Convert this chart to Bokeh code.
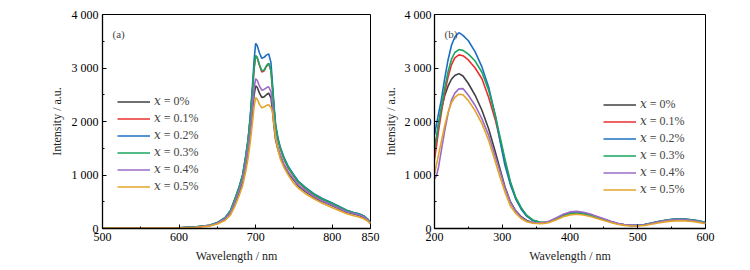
from bokeh.plotting import figure
from bokeh.layouts import row
from bokeh.models import FixedTicker, Legend, LegendItem, Label, Range1d
from bokeh.embed import file_html
from bokeh.resources import INLINE

SERIES_LABELS = ["\U0001D465 = 0%", "\U0001D465 = 0.1%", "\U0001D465 = 0.2%",
                 "\U0001D465 = 0.3%", "\U0001D465 = 0.4%", "\U0001D465 = 0.5%"]
COLORS = ["#404040", "#e8302f", "#1c6fc2", "#1aa560", "#9b6bc7", "#e3a42a"]

Y_TICKS = [0, 1000, 2000, 3000, 4000]
Y_TICK_LABELS = ["0", "1 000", "2 000", "3 000", "4 000"]
Y_MINOR = [500, 1500, 2500, 3500]

# ---------- panel (a) ----------
A_X_TICKS = [500, 600, 700, 800, 850]
A_X_LABELS = ["500", "600", "700", "800", "850"]
A_X_MINOR = [550, 650, 750]
WL_A = [500, 550, 600, 620, 640, 650, 660, 667, 673, 678, 683, 687, 690, 693, 696, 698,
        700, 702, 705, 708, 711, 714, 717, 720, 722, 724, 726, 729, 732, 737, 743, 750,
        756, 765, 776, 787, 798, 808, 819, 828, 835, 841, 846, 850]
A_0 = [8, 8, 12, 22, 55, 100, 180, 290, 480, 660, 880, 1180, 1440, 1780, 2200, 2500,
       2665, 2640, 2530, 2450, 2460, 2500, 2530, 2440, 2200, 1900, 1660, 1480, 1350, 1180, 1020, 900,
       790, 690, 585, 505, 440, 375, 305, 270, 245, 210, 160, 95]
A_1 = [10, 10, 15, 25, 58, 108, 195, 320, 545, 745, 985, 1330, 1630, 2060, 2600, 2990,
       3225, 3190, 3050, 2925, 2945, 3030, 3085, 2950, 2610, 2240, 1910, 1670, 1500, 1300, 1120, 975,
       855, 745, 630, 540, 470, 400, 330, 290, 265, 230, 172, 108]
A_2 = [10, 10, 15, 25, 60, 110, 200, 330, 550, 750, 1000, 1350, 1650, 2100, 2700, 3150,
       3460, 3420, 3280, 3180, 3200, 3240, 3265, 3100, 2700, 2300, 1950, 1700, 1530, 1330, 1150, 1000,
       880, 770, 650, 560, 490, 420, 340, 300, 275, 240, 180, 115]
A_3 = [10, 10, 15, 25, 60, 110, 200, 330, 560, 760, 1000, 1350, 1650, 2080, 2620, 3000,
       3235, 3200, 3060, 2950, 2960, 3040, 3090, 2960, 2620, 2250, 1920, 1680, 1510, 1310, 1130, 985,
       865, 755, 640, 550, 480, 410, 335, 295, 270, 235, 175, 110]
A_4 = [8, 8, 12, 22, 55, 100, 185, 300, 500, 690, 920, 1230, 1500, 1850, 2300, 2620,
       2800, 2770, 2660, 2585, 2600, 2630, 2650, 2560, 2300, 1980, 1720, 1530, 1390, 1210, 1050, 920,
       810, 710, 600, 515, 450, 385, 315, 280, 255, 220, 165, 100]
A_5 = [8, 8, 12, 20, 45, 85, 150, 250, 420, 600, 800, 1060, 1300, 1620, 2000, 2280,
       2445, 2420, 2320, 2255, 2270, 2300, 2315, 2260, 2180, 1950, 1700, 1480, 1310, 1140, 990, 840,
       750, 650, 555, 470, 400, 340, 275, 240, 215, 182, 140, 87]

# ---------- panel (b) ----------
B_X_TICKS = [200, 300, 400, 500, 600]
B_X_LABELS = ["200", "300", "400", "500", "600"]
B_X_MINOR = [250, 350, 450, 550]
WL_B = [200, 203, 206, 210, 215, 220, 225, 230, 236, 242, 250, 260, 270, 280, 290, 297,
        304, 312, 320, 328, 336, 345, 355, 362, 370, 380, 390, 400, 410, 420, 430, 440,
        450, 460, 470, 480, 490, 500, 510, 520, 530, 540, 550, 560, 570, 580, 590, 600]
B_0 = [1500, 1700, 1950, 2230, 2480, 2660, 2790, 2860, 2895, 2850, 2710, 2490, 2210, 1860, 1420, 1100,
       780, 500, 330, 220, 150, 112, 100, 105, 130, 185, 250, 295, 305, 290, 258, 215,
       172, 130, 95, 70, 56, 57, 70, 95, 122, 145, 160, 168, 165, 152, 132, 102]
B_1 = [1290, 1550, 1830, 2150, 2530, 2830, 3060, 3190, 3245, 3230, 3150, 3000, 2800, 2450, 2020, 1640,
       1250, 850, 560, 375, 240, 155, 118, 110, 128, 178, 238, 278, 288, 272, 242, 203,
       163, 124, 90, 67, 56, 58, 72, 96, 124, 148, 165, 174, 170, 158, 138, 108]
B_2 = [1750, 1950, 2150, 2400, 2800, 3150, 3420, 3580, 3660, 3610, 3510, 3300, 3020, 2640, 2100, 1620,
       1180, 820, 550, 360, 230, 150, 115, 110, 130, 185, 245, 285, 295, 280, 250, 210,
       170, 130, 95, 70, 58, 60, 75, 100, 130, 155, 172, 182, 178, 165, 145, 115]
B_3 = [1480, 1700, 1950, 2250, 2620, 2930, 3160, 3290, 3345, 3330, 3260, 3130, 2920, 2580, 2100, 1700,
       1300, 880, 580, 390, 250, 160, 120, 112, 130, 180, 240, 280, 290, 275, 245, 205,
       165, 125, 92, 68, 57, 60, 73, 98, 126, 150, 167, 176, 172, 160, 140, 110]
B_4 = [930, 990, 1150, 1450, 1820, 2150, 2400, 2530, 2610, 2615, 2490, 2300, 2050, 1740, 1330, 1050,
       760, 490, 320, 205, 140, 110, 105, 112, 140, 200, 265, 310, 320, 305, 270, 225,
       180, 135, 98, 72, 58, 58, 70, 94, 120, 143, 158, 166, 163, 150, 130, 100]
B_5 = [1020, 1200, 1380, 1620, 1920, 2170, 2350, 2450, 2510, 2500, 2390, 2200, 1960, 1645, 1240, 950,
       680, 420, 280, 185, 125, 98, 92, 95, 115, 165, 220, 255, 265, 252, 225, 188,
       150, 112, 80, 58, 46, 46, 57, 78, 102, 124, 138, 146, 143, 132, 114, 88]

FONT = "Liberation Serif"
LEGEND_FONT = "Liberation Serif, DejaVu Serif"


def make_panel(width, b_left, b_right, xr, xticks, xlabels, xminor, wl, ys, leg_loc, tag, stand):
    p = figure(width=width, height=270, x_range=Range1d(*xr), y_range=Range1d(0, 4000),
               output_backend="svg", toolbar_location=None,
               min_border_left=b_left, min_border_right=b_right,
               min_border_top=14, min_border_bottom=42)
    p.xgrid.visible = False
    p.ygrid.visible = False
    p.outline_line_color = "black"
    p.outline_line_width = 1
    p.background_fill_color = "white"
    p.border_fill_color = "white"

    items = []
    for lab, col, y in zip(SERIES_LABELS, COLORS, ys):
        r = p.line(wl, y, line_color=col, line_width=1.6)
        items.append(LegendItem(label=lab, renderers=[r]))

    leg = Legend(items=items, location=leg_loc, padding=0, margin=0,
                 border_line_color=None, background_fill_alpha=0,
                 glyph_width=33, glyph_height=15, label_height=15, spacing=2,
                 label_standoff=4, label_text_font=LEGEND_FONT, label_text_font_size="12px")
    p.add_layout(leg)

    p.xaxis.ticker = FixedTicker(ticks=xticks, minor_ticks=xminor)
    p.xaxis.major_label_overrides = dict(zip(xticks, xlabels))
    p.yaxis.ticker = FixedTicker(ticks=Y_TICKS, minor_ticks=Y_MINOR)
    p.yaxis.major_label_overrides = dict(zip(Y_TICKS, Y_TICK_LABELS))
    p.xaxis.axis_label = "Wavelength / nm"
    p.yaxis.axis_label = "Intensity / a.u."
    for ax in (p.xaxis[0], p.yaxis[0]):
        ax.axis_line_color = "black"
        ax.axis_line_width = 1.3
        ax.major_tick_in = 4
        ax.major_tick_out = 0
        ax.minor_tick_in = 2
        ax.minor_tick_out = 0
        ax.major_tick_line_color = "black"
        ax.minor_tick_line_color = "black"
        ax.major_label_text_font = FONT
        ax.major_label_text_font_size = "12px"
        ax.major_label_text_color = "black"
        ax.axis_label_text_font = FONT
        ax.axis_label_text_font_size = "12px"
        ax.axis_label_text_font_style = "normal"
        ax.axis_label_text_color = "#222222"
    p.xaxis[0].major_label_standoff = 4
    p.xaxis[0].axis_label_standoff = 5
    p.yaxis[0].major_label_standoff = stand[0]
    p.yaxis[0].axis_label_standoff = stand[1]

    p.add_layout(Label(x=10, y=195, x_units="screen", y_units="screen", text=tag,
                       text_font=FONT, text_font_size="11px", text_baseline="middle"))
    return p


p1 = make_panel(380, 102, 10, (500, 850), A_X_TICKS, A_X_LABELS, A_X_MINOR, WL_A,
                [A_0, A_1, A_2, A_3, A_4, A_5], (15, 34), "(a)", (4, 5))
p2 = make_panel(370, 54, 45, (200, 600), B_X_TICKS, B_X_LABELS, B_X_MINOR, WL_B,
                [B_0, B_1, B_2, B_3, B_4, B_5], (169, 31), "(b)", (3, 4))

layout = row(p1, p2)
open("out.html", "w").write(file_html(layout, INLINE))
